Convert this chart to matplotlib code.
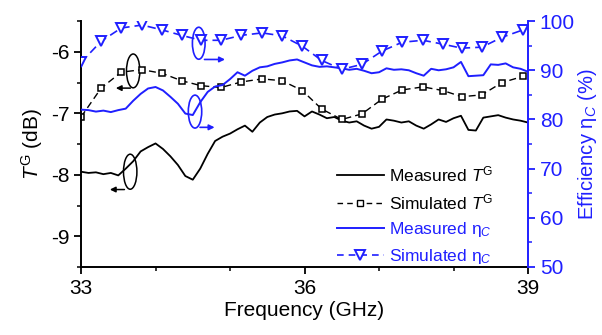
import numpy as np
import matplotlib
matplotlib.use("Agg")
import matplotlib.pyplot as plt
from matplotlib.patches import Ellipse
from matplotlib.lines import Line2D

plt.rcParams['font.family'] = ['Liberation Sans', 'DejaVu Sans']
plt.rcParams['mathtext.fontset'] = 'custom'
plt.rcParams['mathtext.rm'] = 'Liberation Sans'
plt.rcParams['mathtext.it'] = 'Liberation Sans:italic'
plt.rcParams['axes.unicode_minus'] = False  # plain hyphen like the original

# Measured data (every 0.1 GHz)
freq_meas = [33.0, 33.1, 33.2, 33.3, 33.4, 33.5, 33.6, 33.7, 33.8, 33.9,
             34.0, 34.1, 34.2, 34.3, 34.4, 34.5, 34.6, 34.7, 34.8, 34.9,
             35.0, 35.1, 35.2, 35.3, 35.4, 35.5, 35.6, 35.7, 35.8, 35.9,
             36.0, 36.1, 36.2, 36.3, 36.4, 36.5, 36.6, 36.7, 36.8, 36.9,
             37.0, 37.1, 37.2, 37.3, 37.4, 37.5, 37.6, 37.7, 37.8, 37.9,
             38.0, 38.1, 38.2, 38.3, 38.4, 38.5, 38.6, 38.7, 38.8, 38.9, 39.0]
tg_meas = [-7.95, -7.97, -7.96, -7.99, -7.97, -8.01, -7.90, -7.78, -7.62, -7.55,
           -7.49, -7.58, -7.70, -7.84, -8.02, -8.08, -7.90, -7.66, -7.45, -7.38,
           -7.33, -7.26, -7.20, -7.30, -7.15, -7.06, -7.02, -7.00, -6.97, -6.96,
           -7.05, -6.97, -7.02, -7.08, -7.06, -7.12, -7.15, -7.13, -7.20, -7.25,
           -7.22, -7.10, -7.12, -7.15, -7.13, -7.20, -7.25, -7.18, -7.10, -7.14,
           -7.08, -7.04, -7.27, -7.28, -7.07, -7.05, -7.03, -7.07, -7.10, -7.12, -7.15]
eff_meas = [82.0, 81.9, 81.6, 81.8, 81.5, 81.9, 82.2, 83.8, 85.2, 86.3,
            86.6, 85.9, 84.6, 83.2, 81.2, 80.9, 83.5, 85.6, 86.7, 87.0,
            88.2, 89.6, 88.9, 89.9, 90.6, 90.8, 91.3, 91.6, 92.0, 92.2,
            91.6, 91.0, 90.7, 90.8, 90.6, 90.4, 90.1, 90.3, 89.9, 89.4,
            89.6, 90.4, 90.1, 90.2, 90.0, 89.4, 88.9, 90.3, 90.0, 90.2,
            90.6, 91.7, 88.8, 88.9, 89.0, 91.2, 91.1, 91.4, 90.6, 90.3, 89.7]

# Simulated data
freq_sim = [33.0, 33.27, 33.54, 33.82, 34.09, 34.35, 34.61, 34.88, 35.15, 35.43, 35.7, 35.97,
            36.23, 36.5, 36.77, 37.04, 37.31, 37.59, 37.86, 38.11, 38.38, 38.65, 38.93]
tg_sim = [-7.06, -6.59, -6.33, -6.29, -6.35, -6.47, -6.55, -6.58, -6.49, -6.44, -6.47, -6.63,
          -6.93, -7.10, -7.01, -6.77, -6.62, -6.57, -6.63, -6.73, -6.70, -6.50, -6.40]
eff_sim = [91.6, 95.9, 98.6, 99.2, 98.2, 97.1, 96.1, 96.1, 97.1, 97.6, 97.0, 94.9,
           92.0, 90.2, 91.2, 93.9, 95.7, 96.1, 95.3, 94.5, 94.7, 96.7, 98.2]

blue = '#1f1fff'

fig = plt.figure(figsize=(6.02, 3.35), dpi=100)
ax = fig.add_axes([0.1346, 0.203, 0.7425, 0.734])
ax2 = ax.twinx()

ax.plot(freq_meas, tg_meas, color='black', lw=1.3)
ax.plot(freq_sim, tg_sim, color='black', lw=1.0, ls=(0, (5, 3)), marker='s',
        ms=5, mfc='white', mec='black', mew=1.1)
ax2.plot(freq_meas, eff_meas, color=blue, lw=1.4)
ax2.plot(freq_sim, eff_sim, color=blue, lw=1.2, ls=(0, (5, 3)), marker='v',
         ms=7, mfc='white', mec=blue, mew=1.4)

ax.set_xlim(33, 39)
ax.set_ylim(-9.5, -5.5)
ax2.set_ylim(50, 100)
ax.set_xticks([33, 36, 39])
ax.set_xticks([34, 35, 37, 38], minor=True)
ax.set_yticks([-9, -8, -7, -6])
ax.set_yticks([-9.5, -8.5, -7.5, -6.5, -5.5], minor=True)
ax2.set_yticks([50, 60, 70, 80, 90, 100])
ax2.set_yticks([55, 65, 75, 85, 95], minor=True)

for a in (ax, ax2):
    a.spines['top'].set_visible(False)
    a.tick_params(which='major', length=5, width=1.3, labelsize=15, direction='out')
    a.tick_params(which='minor', length=3, width=1.1, direction='out')
ax.spines['left'].set_linewidth(1.4)
ax.spines['bottom'].set_linewidth(1.4)
ax.spines['right'].set_visible(False)
ax2.spines['left'].set_visible(False)
ax2.spines['bottom'].set_visible(False)
ax2.spines['right'].set_color(blue)
ax2.spines['right'].set_linewidth(1.4)
ax2.tick_params(axis='y', which='both', colors=blue)

ax.set_xlabel('Frequency (GHz)', fontsize=15, labelpad=2)
ax.set_ylabel(r'$\mathit{T}^{\mathrm{G}}$ (dB)', fontsize=15, labelpad=4)
ax2.set_ylabel('Efficiency η$_{\\mathit{C}}$ (%)', fontsize=14.5, color=blue, labelpad=1)

# ellipses + arrows pointing to each curve's axis
ax.add_patch(Ellipse((33.70, -6.31), 0.18, 0.55, fill=False, ec='black', lw=1.1))
ax.annotate('', xy=(33.43, -6.59), xytext=(33.70, -6.59),
            arrowprops=dict(arrowstyle='-|>', color='black', lw=1.1, mutation_scale=8))
ax.add_patch(Ellipse((33.66, -7.95), 0.18, 0.57, fill=False, ec='black', lw=1.1))
ax.annotate('', xy=(33.35, -8.24), xytext=(33.62, -8.24),
            arrowprops=dict(arrowstyle='-|>', color='black', lw=1.1, mutation_scale=8))
ax2.add_patch(Ellipse((34.58, 95.5), 0.17, 6.5, fill=False, ec=blue, lw=1.2))
ax2.annotate('', xy=(34.97, 92.2), xytext=(34.62, 92.2),
             arrowprops=dict(arrowstyle='-|>', color=blue, lw=1.2, mutation_scale=8))
ax2.add_patch(Ellipse((34.53, 81.6), 0.18, 6.7, fill=False, ec=blue, lw=1.2))
ax2.annotate('', xy=(34.83, 78.4), xytext=(34.56, 78.4),
             arrowprops=dict(arrowstyle='-|>', color=blue, lw=1.2, mutation_scale=8))

handles = [
    Line2D([], [], color='black', lw=1.3),
    Line2D([], [], color='black', lw=1.0, ls=(0, (4, 3)), marker='s', ms=5, mfc='white', mec='black'),
    Line2D([], [], color=blue, lw=1.4),
    Line2D([], [], color=blue, lw=1.2, ls=(0, (4, 3)), marker='v', ms=7, mfc='white', mec=blue, mew=1.4),
]
labels = [r'Measured $\mathit{T}^{\mathrm{G}}$', r'Simulated $\mathit{T}^{\mathrm{G}}$',
          'Measured η$_{\\mathit{C}}$', 'Simulated η$_{\\mathit{C}}$']
leg = ax2.legend(handles, labels, loc='upper left', bbox_to_anchor=(0.545, 0.535),
                 bbox_transform=fig.transFigure, frameon=False, fontsize=12.5,
                 handlelength=2.7, handletextpad=0.3, labelspacing=0.45,
                 borderpad=0, numpoints=1)
for t, c in zip(leg.get_texts(), ['black', 'black', blue, blue]):
    t.set_color(c)

plt.savefig('out.png', dpi=100)
